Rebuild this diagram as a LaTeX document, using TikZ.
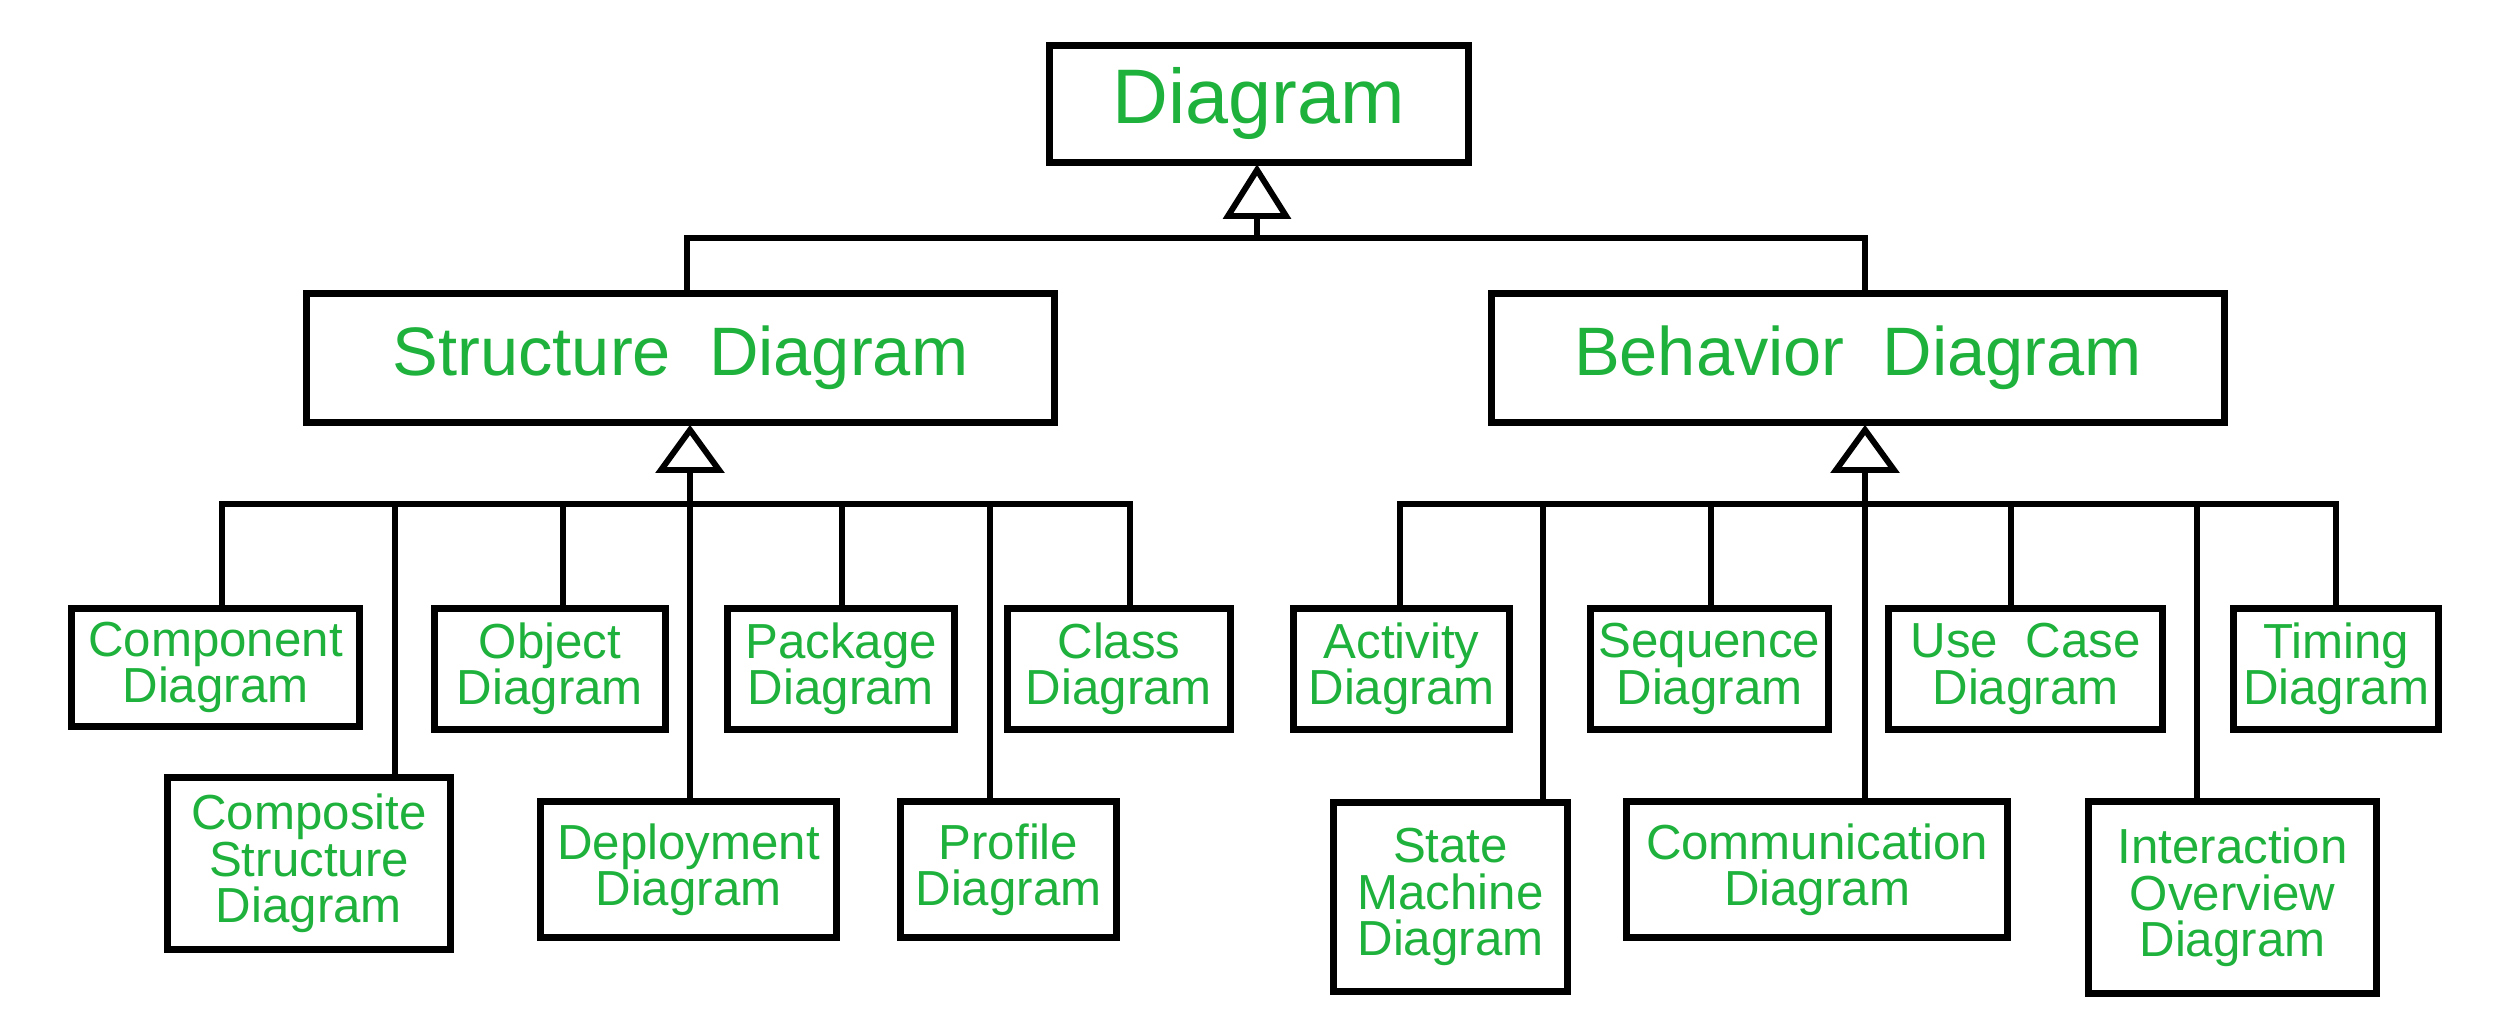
\documentclass[tikz,border=0pt]{standalone}
\usepackage{fontspec}
\setmainfont{Liberation Sans}
\definecolor{txtgreen}{RGB}{30,178,60}
\begin{document}
\begin{tikzpicture}[x=0.01cm,y=-0.01cm,
  box/.style={draw=black, line width=2pt, fill=white, align=center, text=txtgreen, inner sep=0pt},
  kid/.style={box, font=\fontsize{14}{13.2}\selectfont},
  conn/.style={line width=1.6pt},
  tri/.style={line width=1.7pt, fill=white, draw=black}]
\useasboundingbox[fill=white] (0,0) rectangle (2504,1010);

% ---------- top levels ----------
\node[box, minimum width=4.19cm, minimum height=1.17cm, font=\fontsize{22}{24}\selectfont] (top) at (1259,104) {Diagram};
\node[box, minimum width=7.48cm, minimum height=1.29cm, font=\fontsize{19.5}{22}\selectfont] (struct) at (680.5,358) {Structure\ \ Diagram};
\node[box, minimum width=7.33cm, minimum height=1.29cm, font=\fontsize{19.5}{22}\selectfont] (behav) at (1858,358) {Behavior\ \ Diagram};

% ---------- structure children ----------
\node[kid, minimum width=2.88cm, minimum height=1.18cm] (comp) at (215.5,667.5) {Component\\Diagram};
\node[kid, minimum width=2.31cm, minimum height=1.21cm] (obj) at (550,669) {Object\\Diagram};
\node[kid, minimum width=2.27cm, minimum height=1.21cm] (pack) at (841,669) {Package\\Diagram};
\node[kid, minimum width=2.23cm, minimum height=1.21cm] (class) at (1119,669) {Class\\Diagram};
\node[kid, minimum width=2.83cm, minimum height=1.72cm] (compo) at (309,863.5) {Composite\\Structure\\Diagram};
\node[kid, minimum width=2.96cm, minimum height=1.36cm] (dep) at (688.5,869.5) {Deployment\\Diagram};
\node[kid, minimum width=2.16cm, minimum height=1.36cm] (prof) at (1008.5,869.5) {Profile\\Diagram};

% ---------- behavior children ----------
\node[kid, minimum width=2.16cm, minimum height=1.21cm] (act) at (1401.5,669) {Activity\\Diagram};
\node[kid, minimum width=2.38cm, minimum height=1.21cm] (seq) at (1709.5,669) {Sequence\\Diagram};
\node[kid, minimum width=2.74cm, minimum height=1.21cm] (use) at (2025.5,669) {Use\ \ Case\\Diagram};
\node[kid, minimum width=2.05cm, minimum height=1.21cm] (tim) at (2336,669) {Timing\\Diagram};
\node[kid, minimum width=2.34cm, minimum height=1.89cm] (state) at (1450.5,897) {State\\Machine\\Diagram};
\node[kid, minimum width=3.81cm, minimum height=1.36cm] (commu) at (1817,869.5) {Communication\\Diagram};
\node[kid, minimum width=2.88cm, minimum height=1.92cm] (inter) at (2232.5,897.5) {Interaction\\Overview\\Diagram};

% ---------- junction coordinates ----------
\coordinate (tA) at (1257,170);
\coordinate (tB) at (1257,216);
\coordinate (tL) at (687,238);
\coordinate (tR) at (1865,238);

\coordinate (sA) at (690,430);
\coordinate (sB) at (690,470);
\coordinate (jComp) at (222,504);
\coordinate (jCompo) at (395,504);
\coordinate (jObj) at (563,504);
\coordinate (jPack) at (842,504);
\coordinate (jProf) at (990,504);
\coordinate (jClass) at (1130,504);

\coordinate (bA) at (1865,430);
\coordinate (bB) at (1865,470);
\coordinate (jAct) at (1400,504);
\coordinate (jState) at (1543,504);
\coordinate (jSeq) at (1711,504);
\coordinate (jUse) at (2011,504);
\coordinate (jInter) at (2197,504);
\coordinate (jTim) at (2336,504);

% ---------- connectors ----------
\draw[conn] (tB) -- (tB |- tL);
\draw[conn] (tL |- struct.north) -- (tL) -- (tR) -- (tR |- behav.north);

\draw[conn] (sB) -- (sB |- dep.north);
\draw[conn] (jComp |- comp.north) -- (jComp) -- (jClass) -- (jClass |- class.north);
\draw[conn] (jCompo) -- (jCompo |- compo.north);
\draw[conn] (jObj) -- (jObj |- obj.north);
\draw[conn] (jPack) -- (jPack |- pack.north);
\draw[conn] (jProf) -- (jProf |- prof.north);

\draw[conn] (bB) -- (bB |- commu.north);
\draw[conn] (jAct |- act.north) -- (jAct) -- (jTim) -- (jTim |- tim.north);
\draw[conn] (jState) -- (jState |- state.north);
\draw[conn] (jSeq) -- (jSeq |- seq.north);
\draw[conn] (jUse) -- (jUse |- use.north);
\draw[conn] (jInter) -- (jInter |- inter.north);

% ---------- generalisation triangles ----------
\draw[tri] (tA) -- ++(-29,46) -- ++(58,0) -- cycle;
\draw[tri] (sA) -- ++(-29,40) -- ++(58,0) -- cycle;
\draw[tri] (bA) -- ++(-29,40) -- ++(58,0) -- cycle;
\end{tikzpicture}
\end{document}
